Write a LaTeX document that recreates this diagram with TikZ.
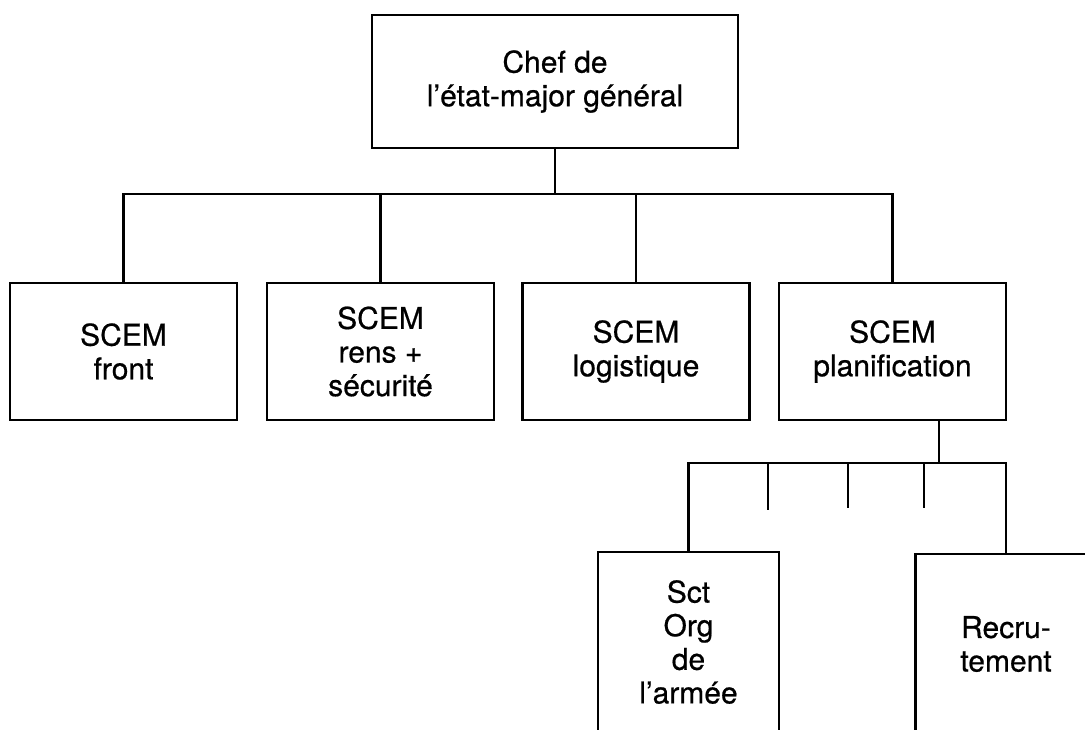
\documentclass[tikz,border=0pt]{standalone}
\usepackage{fontspec}
\setmainfont{TeX Gyre Heros}[FakeBold=0.6]
\begin{document}
\begin{tikzpicture}[x=0.5pt,y=-0.5pt,
  box/.style={draw, line width=1.4pt, align=center, inner sep=0pt,
    font=\fontsize{15}{16.8}\selectfont},
  midbox/.style={box, minimum width=113.5pt, minimum height=68.5pt},
  lowbox/.style={box, minimum width=90.5pt, minimum height=90pt},
  conn/.style={line width=1.4pt}]
\useasboundingbox (0,0) rectangle (1085,729);
\clip (0,0) rectangle (1085,729);
% top
\node[box, minimum width=183pt, minimum height=66.5pt] (chef) at (555,81.5) {Chef de\\l'état-major général};
% middle row
\node[midbox] (b1) at (123.5,351.5) {SCEM\\front};
\node[midbox] (b2) at (380.5,351.5) {SCEM\\rens +\\sécurité};
\node[midbox] (b3) at (636,351.5) {SCEM\\logistique};
\node[midbox] (b4) at (892.5,351.5) {SCEM\\planification};
% bottom row
\node[lowbox] (b5) at (688.5,642) {Sct\\Org\\de\\l'armée};
\node[lowbox] (b6) at (1006,644) {Recru-\\tement};
% connectors level 1
\coordinate (bus) at (555,194);
\draw[conn] (chef.south) -- (bus);
\draw[conn] (b1.north) -- (b1.north |- bus) -- (b4.north |- bus) -- (b4.north);
\draw[conn] (b2.north) -- (b2.north |- bus);
\draw[conn] (b3.north) -- (b3.north |- bus);
% connectors level 2
\coordinate (sub) at (939,463);
\draw[conn] (b4.south -| sub) -- (sub);
\draw[conn] (b5.north) -- (b5.north |- sub) -- (b6.north |- sub) -- (b6.north);
\coordinate (t1) at (768,510);
\coordinate (t2) at (848,508);
\coordinate (t3) at (924,508);
\draw[conn] (t1 |- sub) -- (t1);
\draw[conn] (t2 |- sub) -- (t2);
\draw[conn] (t3 |- sub) -- (t3);
\end{tikzpicture}
\end{document}
